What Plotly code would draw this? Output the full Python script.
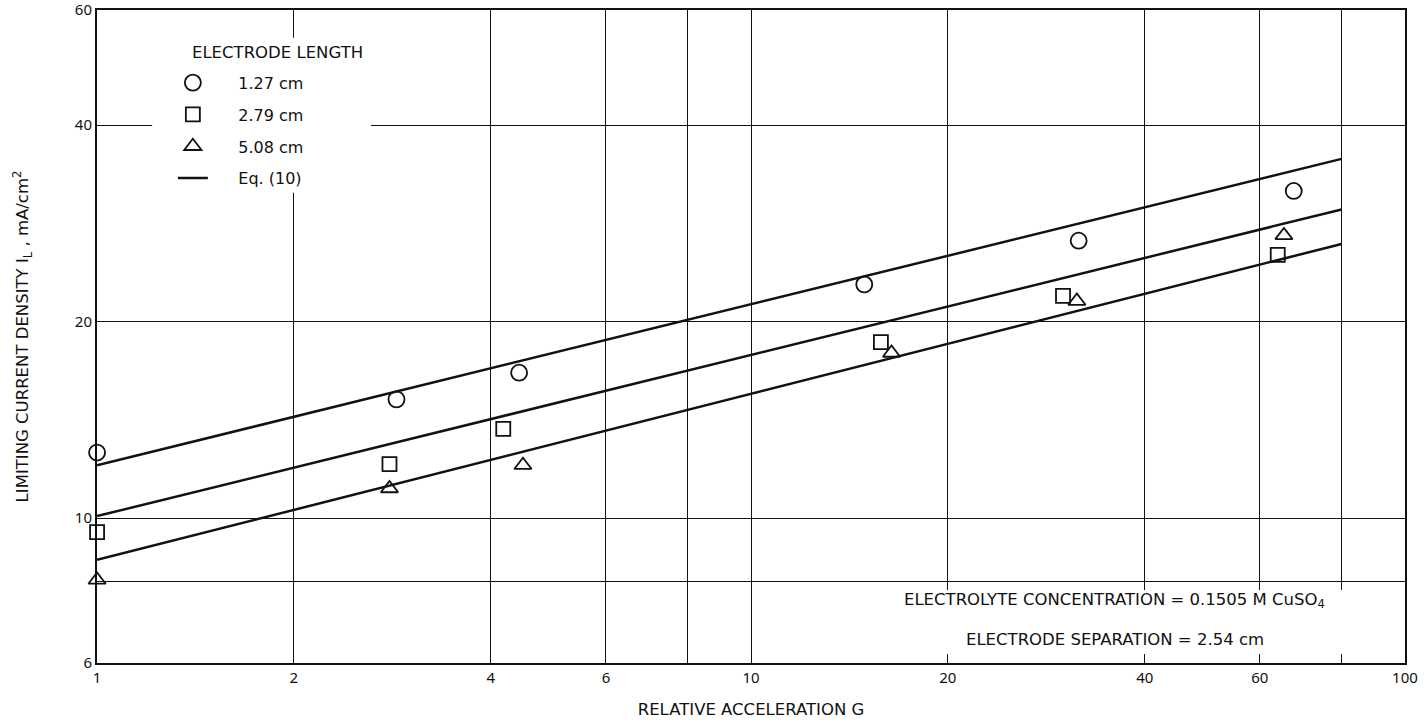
import math
import plotly.graph_objects as go

# Limiting current density vs. relative acceleration, three electrode lengths
g_127 = [1.0, 2.87, 4.42, 14.9, 31.7, 67.6]
il_127 = [12.6, 15.2, 16.7, 22.8, 26.6, 31.7]

g_279 = [1.0, 2.80, 4.18, 15.8, 30.0, 63.9]
il_279 = [9.52, 12.1, 13.7, 18.6, 21.9, 25.3]

g_508 = [1.0, 2.80, 4.48, 16.4, 31.5, 65.3]
il_508 = [8.04, 11.1, 12.05, 17.9, 21.5, 27.1]

# Eq. (10) correlation lines (straight on log-log axes)
eq_g = [1, 80]
eq_upper = [12.05, 35.5]
eq_middle = [10.07, 29.7]
eq_lower = [8.63, 26.3]

x_tickvals = [1, 2, 4, 6, 8, 10, 20, 40, 60, 80, 100]
x_ticktext = ["1", "2", "4", "6", "", "10", "20", "40", "60", "", "100"]
y_tickvals = [6, 8, 10, 20, 40, 60]
y_ticktext = ["6", "", "10", "20", "40", "60"]

FONT = "DejaVu Sans"
TICK_FONT = "Noto Sans"
BLACK = "#111111"
TXT = 16.5

fig = go.Figure()

marker_line = dict(color=BLACK, width=1.8)
pad = "     "
fig.add_trace(go.Scatter(
    x=g_127, y=il_127, mode="markers", name=pad + "1.27 cm", legendgroup="a",
    cliponaxis=False,
    marker=dict(symbol="circle-open", size=16, color=BLACK, line=marker_line)))
fig.add_trace(go.Scatter(
    x=g_279, y=il_279, mode="markers", name=pad + "2.79 cm", legendgroup="b",
    cliponaxis=False,
    marker=dict(symbol="square-open", size=14, color=BLACK, line=marker_line)))
fig.add_trace(go.Scatter(
    x=g_508, y=il_508, mode="markers", name=pad + "5.08 cm", legendgroup="c",
    cliponaxis=False,
    marker=dict(symbol="triangle-up-open", size=15, color=BLACK, line=marker_line)))

for i, ys in enumerate([eq_upper, eq_middle, eq_lower]):
    fig.add_trace(go.Scatter(
        x=eq_g, y=ys, mode="lines", name=pad + "Eq. (10)", legendgroup="d",
        showlegend=(i == 0), line=dict(color=BLACK, width=2.5)))

axis_common = dict(
    type="log", showgrid=True, gridcolor=BLACK, gridwidth=1.4,
    showline=True, mirror=True, linecolor=BLACK, linewidth=2,
    zeroline=False, tickfont=dict(family=TICK_FONT, size=15, color=BLACK),
    ticklabeloverflow="allow", automargin=False,
)

eps = 1e-4
fig.update_xaxes(
    **axis_common, range=[0 - eps, 2 + eps], tickmode="array",
    tickvals=x_tickvals, ticktext=x_ticktext,
    ticks="inside", ticklen=9, tickwidth=1.4, tickcolor=BLACK,
    title=dict(text="RELATIVE ACCELERATION G", font=dict(family=FONT, size=TXT, color=BLACK),
               standoff=17),
)
fig.update_yaxes(
    **axis_common, range=[math.log10(6) - eps, math.log10(60) + eps], tickmode="array",
    tickvals=y_tickvals, ticktext=y_ticktext, ticks="",
    title=dict(text="LIMITING CURRENT DENSITY I<sub>L</sub> , mA/cm<sup>2</sup>",
               font=dict(family=FONT, size=TXT, color=BLACK), standoff=42),
)

# White panels behind the legend block and the experimental-conditions note
fig.add_shape(type="rect", xref="x", yref="y", x0=1.214, x1=2.624, y0=31.5, y1=54.4,
              fillcolor="white", line=dict(width=0), layer="between")
fig.add_shape(type="rect", xref="x", yref="y", x0=15.7, x1=100, y0=6, y1=7.76,
              fillcolor="white", line=dict(width=0), layer="between")

fig.add_annotation(xref="paper", yref="paper", x=0.0711, y=0.9345,
                   text="ELECTRODE LENGTH", showarrow=False,
                   xanchor="left", yanchor="middle",
                   font=dict(family=FONT, size=TXT, color=BLACK))

fig.add_annotation(xref="paper", yref="paper", x=0.778, y=0.096,
                   text="ELECTROLYTE CONCENTRATION = 0.1505 M CuSO<sub>4</sub>",
                   showarrow=False, xanchor="center", yanchor="middle",
                   font=dict(family=FONT, size=TXT, color=BLACK))
fig.add_annotation(xref="paper", yref="paper", x=0.778, y=0.0366,
                   text="ELECTRODE SEPARATION = 2.54 cm",
                   showarrow=False, xanchor="center", yanchor="middle",
                   font=dict(family=FONT, size=TXT, color=BLACK))

fig.update_layout(
    width=1425, height=723,
    margin=dict(l=97, r=20, t=10, b=60),
    plot_bgcolor="white", paper_bgcolor="white",
    font=dict(family=FONT, size=TXT, color=BLACK),
    legend=dict(
        x=0.058, y=0.9146, xanchor="left", yanchor="top",
        bgcolor="rgba(255,255,255,0)", borderwidth=0, tracegroupgap=8,
        font=dict(family=FONT, size=16, color=BLACK),
    ),
)

fig.write_html("out.html")
